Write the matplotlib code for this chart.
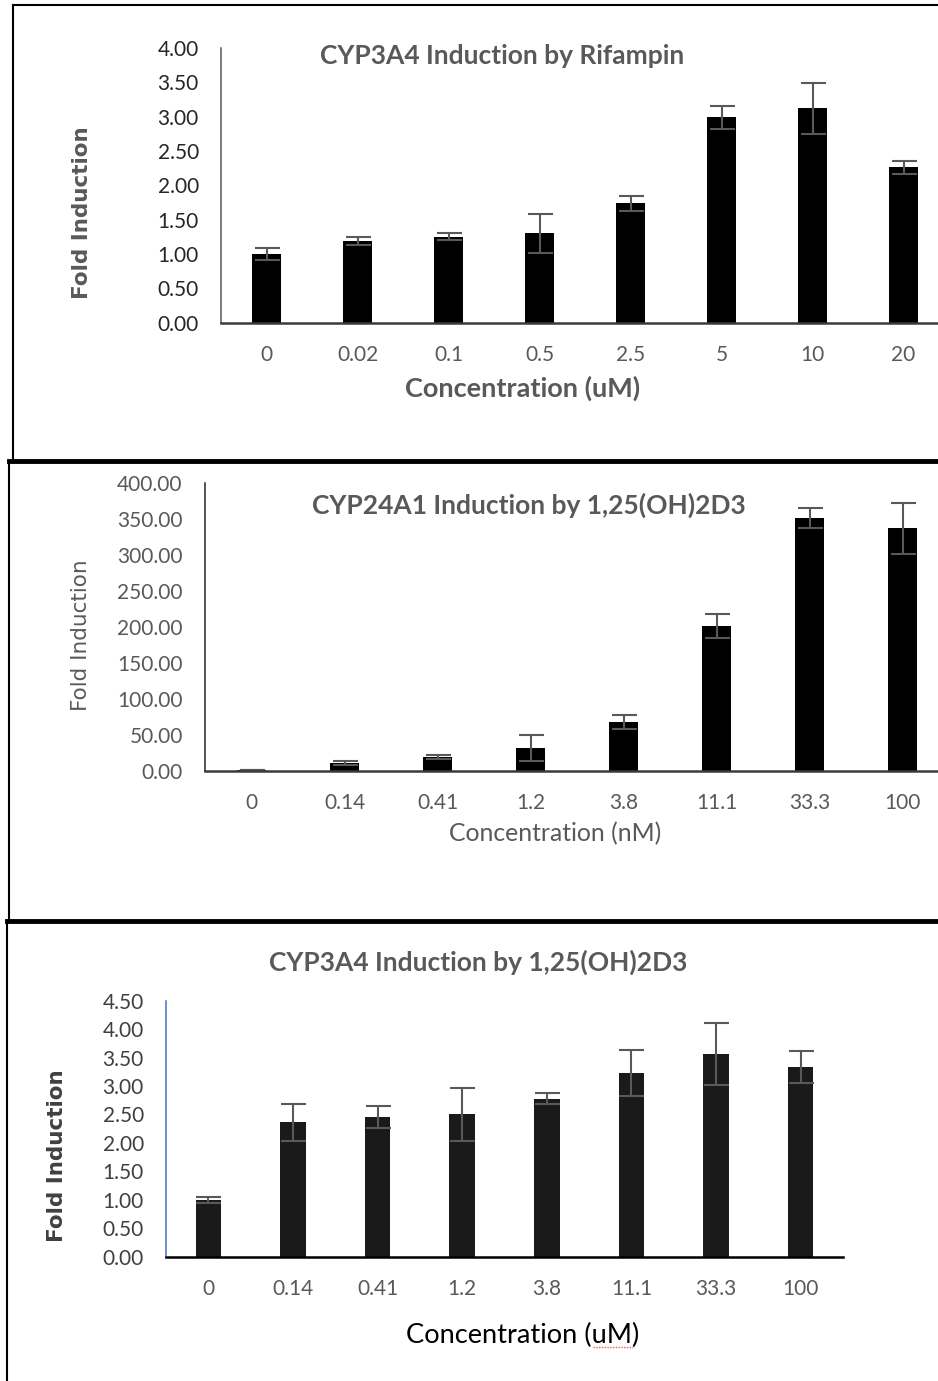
import matplotlib
matplotlib.use("Agg")
import matplotlib.pyplot as plt
from matplotlib.lines import Line2D
import numpy as np

# Panel 1: CYP3A4 induction by rifampin
rif_conc = ["0", "0.02", "0.1", "0.5", "2.5", "5", "10", "20"]
rif_fold = [1.00, 1.19, 1.25, 1.30, 1.74, 2.99, 3.12, 2.26]
rif_err = [0.09, 0.065, 0.05, 0.29, 0.11, 0.17, 0.37, 0.09]

# Panel 2: CYP24A1 induction by 1,25(OH)2D3
d3_conc = ["0", "0.14", "0.41", "1.2", "3.8", "11.1", "33.3", "100"]
cyp24_fold = [1.0, 11.1, 18.6, 31.2, 67.4, 201.5, 351.5, 337.1]
cyp24_err = [0.5, 2.8, 2.7, 17.8, 9.8, 16.7, 13.7, 36.0]

# Panel 3: CYP3A4 induction by 1,25(OH)2D3
cyp3a4_fold = [1.00, 2.36, 2.46, 2.50, 2.78, 3.23, 3.56, 3.33]
cyp3a4_err = [0.05, 0.32, 0.19, 0.47, 0.10, 0.40, 0.54, 0.28]

W, H = 938, 1381
NARROW = ["Lato", "DejaVu Sans"]
GREY = "#595959"

fig = plt.figure(figsize=(W / 100, H / 100), dpi=100)


def fx(x):
    return x / W


def fy(y):
    return 1 - y / H


def add_ax(left, top, bottom, width):
    return fig.add_axes([fx(left), fy(bottom), width / W, (bottom - top) / H])


def draw_panel(ax, labels, vals, errs, ymax, step, bar_color, width,
               yaxis_color, xaxis_color, ytick_color, xtick_color):
    x = np.arange(len(labels))
    ax.bar(x, vals, width=width, color=bar_color, zorder=2)
    ax.errorbar(x, vals, yerr=errs, fmt="none", ecolor="#595959",
                elinewidth=1.5, capsize=9, capthick=1.5, zorder=3)
    ax.set_xlim(-0.5, len(labels) - 0.5)
    ax.set_ylim(0, ymax)
    ticks = np.arange(0, ymax + step / 2, step)
    ax.set_yticks(ticks)
    ax.set_yticklabels(["{:.2f}".format(v) for v in ticks])
    ax.set_xticks(x)
    ax.set_xticklabels(labels)
    for s in ["top", "right"]:
        ax.spines[s].set_visible(False)
    ax.spines["left"].set_color(yaxis_color)
    ax.spines["left"].set_linewidth(1.1)
    ax.spines["bottom"].set_color(xaxis_color)
    ax.spines["bottom"].set_linewidth(1.8)
    ax.spines["bottom"].set_zorder(4)
    ax.tick_params(axis="both", length=0, labelsize=15)
    ax.tick_params(axis="y", pad=16, colors=ytick_color)
    ax.tick_params(axis="x", pad=16, colors=xtick_color)
    for lab in ax.get_xticklabels() + ax.get_yticklabels():
        lab.set_family(NARROW)
    ax.patch.set_alpha(0)


# ---- panel 1 ----
ax1 = add_ax(221, 48, 322.7, 8 * 91)
draw_panel(ax1, rif_conc, rif_fold, rif_err, 4.0, 0.5, "black", 0.31,
           "#595959", "#3a3a3a", "#262626", GREY)
fig.text(fx(502), fy(56), "CYP3A4 Induction by Rifampin", ha="center", va="center",
         fontsize=19, fontweight="bold", color=GREY, family=NARROW)
fig.text(fx(523), fy(388), "Concentration (uM)", ha="center", va="center",
         fontsize=19.5, fontweight="bold", color=GREY, family=NARROW)
fig.text(fx(82), fy(213), "Fold Induction", ha="center", va="center", rotation=90,
         fontsize=15.5, fontweight="bold", color=GREY, family="DejaVu Sans")

# ---- panel 2 ----
ax2 = add_ax(205, 483.3, 770.7, 8 * 93)
draw_panel(ax2, d3_conc, cyp24_fold, cyp24_err, 400, 50, "black", 0.31,
           "#262626", "#3a3a3a", GREY, GREY)
fig.text(fx(529), fy(505), "CYP24A1 Induction by 1,25(OH)2D3", ha="center", va="center",
         fontsize=19, fontweight="bold", color=GREY, family=NARROW)
fig.text(fx(555), fy(834), "Concentration (nM)", ha="center", va="center",
         fontsize=17.8, color=GREY, family=NARROW)
fig.text(fx(81), fy(635), "Fold Induction", ha="center", va="center", rotation=90,
         fontsize=15.5, color=GREY, family="DejaVu Sans")

# ---- panel 3 ----
ax3 = add_ax(166, 1000.7, 1256.7, 677)
draw_panel(ax3, d3_conc, cyp3a4_fold, cyp3a4_err, 4.5, 0.5, "#1a1a1a", 0.30,
           "#4472c4", "black", "#404040", GREY)
fig.text(fx(478), fy(962), "CYP3A4 Induction by 1,25(OH)2D3", ha="center", va="center",
         fontsize=19, fontweight="bold", color=GREY, family=NARROW)
fig.text(fx(523), fy(1335), "Concentration (uM)", ha="center", va="center",
         fontsize=19.6, color="black", family=NARROW)
fig.text(fx(57), fy(1156), "Fold Induction", ha="center", va="center", rotation=90,
         fontsize=15.5, fontweight="bold", color="#404040", family="DejaVu Sans")
# spell-check squiggle under "uM"
fig.add_artist(Line2D([fx(593), fx(633)], [fy(1347), fy(1347)], color="#e06060",
                      lw=1, ls=(0, (1, 1))))

# ---- panel frames ----
frame = [
    ([13, 938], [5, 5], 1.5),
    ([13, 13], [5, 461], 1.5),
    ([9, 938], [461, 461], 3.5),
    ([9, 9], [461, 921], 1.5),
    ([7, 938], [921, 921], 3.5),
    ([7, 7], [921, 1381], 1.5),
]
for xs, ys, lw in frame:
    fig.add_artist(Line2D([fx(v) for v in xs], [fy(v) for v in ys], color="black", lw=lw))

fig.savefig("out.png", dpi=100, facecolor="white")
